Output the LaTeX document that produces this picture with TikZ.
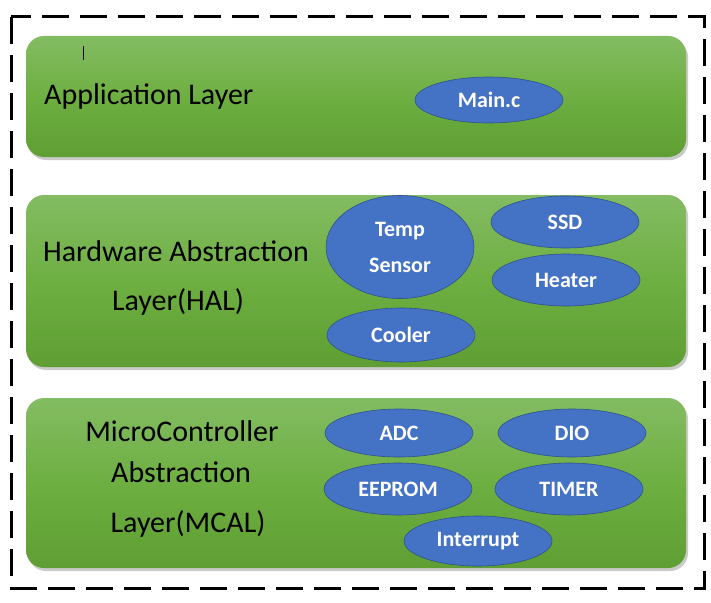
\documentclass[tikz,border=0pt]{standalone}
\usepackage{fontspec}
\setmainfont{Carlito}
\usetikzlibrary{shadows,shapes.geometric}
\definecolor{gtop}{RGB}{131,188,98}
\definecolor{gmid}{RGB}{110,175,66}
\definecolor{gbot}{RGB}{94,158,50}
\definecolor{efill}{RGB}{68,114,196}
\definecolor{edraw}{RGB}{47,82,143}
\tikzset{
  layerbox/.style={rounded corners=18pt, top color=gtop, bottom color=gbot, middle color=gmid,
    drop shadow={shadow xshift=2pt, shadow yshift=-3pt, opacity=0.35, fill=black!60}},
  modellipse/.style={ellipse, draw=edraw, line width=0.6pt, fill=efill, inner sep=0pt,
    text=white, font=\bfseries\fontsize{22}{26}\selectfont},
  layertext/.style={text=black, font=\fontsize{30}{34}\selectfont, inner sep=0pt},
  border/.style={line width=3pt, dash pattern=on 27pt off 11pt}
}
\begin{document}
\begin{tikzpicture}[x=1pt,y=-1pt]
\useasboundingbox (0,0) rectangle (711,602);
\draw[border] (11,17) rectangle (704,588);
% layer boxes
\path[layerbox] (26,36) rectangle (686,157);
\path[layerbox] (26,195) rectangle (686,367);
\path[layerbox] (26,398) rectangle (686,568);
\coordinate (cur1) at (83,46);
\coordinate (cur2) at (83,60);
\draw[black!70!violet, line width=0.6pt] (cur1) -- (cur2);
% Application layer
\node[layertext, anchor=west] (app) at (44,97) {Application Layer};
\node[modellipse, minimum width=148pt, minimum height=46pt] (main) at (489,100) {Main.c};
% HAL
\node[layertext] (hal1) at (176,251) {Hardware Abstraction};
\node[layertext] (hal2) at (178,302) {Layer(HAL)};
\node[modellipse, minimum width=148pt, minimum height=103pt, align=center] (temp) at (400,247) {Temp\\[10pt]Sensor};
\node[modellipse, minimum width=148pt, minimum height=52pt] (ssd) at (565,222) {SSD};
\node[modellipse, minimum width=148pt, minimum height=52pt] (heat) at (566,280) {Heater};
\node[modellipse, minimum width=148pt, minimum height=54pt] (cool) at (401,335) {Cooler};
% MCAL
\node[layertext] (mc1) at (182,431) {MicroController};
\node[layertext] (mc2) at (181,472) {Abstraction};
\node[layertext] (mc3) at (188,524) {Layer(MCAL)};
\node[modellipse, minimum width=148pt, minimum height=48pt] (adc) at (399,433) {ADC};
\node[modellipse, minimum width=148pt, minimum height=48pt] (dio) at (572,433) {DIO};
\node[modellipse, minimum width=148pt, minimum height=52pt] (eep) at (398,489) {EEPROM};
\node[modellipse, minimum width=148pt, minimum height=52pt] (tim) at (569,489) {TIMER};
\node[modellipse, minimum width=148pt, minimum height=50pt] (intr) at (478,541) {Interrupt};
\end{tikzpicture}
\end{document}
